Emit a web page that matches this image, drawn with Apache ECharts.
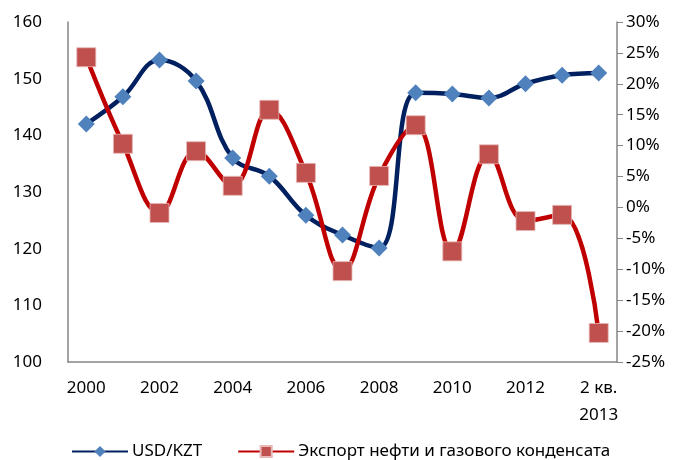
<!DOCTYPE html>
<html>
<head>
<meta charset="utf-8">
<script src="https://cdn.jsdelivr.net/npm/echarts@6/dist/echarts.min.js"></script>
<style>
  html, body { margin: 0; padding: 0; background: #fff; }
  #chart { width: 680px; height: 460px; }
</style>
</head>
<body>
<div id="chart"></div>
<script>
// data
var categories = ['2000', '2001', '2002', '2003', '2004', '2005', '2006', '2007',
  '2008', '2009', '2010', '2011', '2012', '2013', '2 кв.\n2013'];
var usdKzt = [142.0, 146.8, 153.3, 149.6, 136.0, 132.8, 125.9, 122.4,
  120.1, 147.5, 147.3, 146.6, 149.1, 150.6, 151.0];
var oilExport = [24.3, 10.3, -0.9, 9.1, 3.5, 15.8, 5.6, -10.3,
  5.1, 13.3, -7.1, 8.6, -2.2, -1.2, -20.3];
var seriesNames = ['USD/KZT', 'Экспорт нефти и газового конденсата'];

var font = "'Noto Sans', sans-serif";

var chart = echarts.init(document.getElementById('chart'));

chart.setOption({
  animation: false,
  textStyle: { fontFamily: font },
  grid: { left: 68, right: 63, top: 22, bottom: 98, outerBoundsMode: 'none', containLabel: false },
  legend: {
    top: 438,
    left: 66,
    itemWidth: 56,
    itemHeight: 14,
    itemGap: 35,
    textStyle: { fontSize: 17, color: '#000', fontFamily: font, padding: [0, 0, 0, -1] },
    data: seriesNames
  },
  xAxis: {
    type: 'category',
    data: categories,
    boundaryGap: true,
    axisLine: { onZero: false, lineStyle: { color: '#868686', width: 1.5 } },
    axisTick: { show: false },
    axisLabel: {
      interval: 1,
      fontSize: 17,
      color: '#000',
      margin: 13,
      lineHeight: 27,
      fontFamily: font
    }
  },
  yAxis: [{
    type: 'value',
    min: 100,
    max: 160,
    interval: 10,
    name: 'тенге',
    nameLocation: 'middle',
    nameGap: 46,
    nameRotate: 90,
    nameTextStyle: {
      fontSize: 17, fontWeight: 'bold', color: '#000',
      backgroundColor: '#fff', fontFamily: font
    },
    axisLine: { show: true, lineStyle: { color: '#868686', width: 1.5 } },
    axisTick: { show: false },
    splitLine: { show: false },
    axisLabel: { fontSize: 17, color: '#000', margin: 26, fontFamily: font }
  }, {
    type: 'value',
    min: -25,
    max: 30,
    interval: 5,
    position: 'right',
    axisLine: { show: true, lineStyle: { color: '#868686', width: 1.5 } },
    axisTick: { show: true, length: 6, lineStyle: { color: '#868686' } },
    splitLine: { show: false },
    axisLabel: {
      fontSize: 17, color: '#000', margin: 9, fontFamily: font,
      formatter: '{value}%'
    }
  }],
  series: [{
    name: seriesNames[0],
    type: 'line',
    yAxisIndex: 0,
    data: usdKzt,
    smooth: 0.4,
    symbol: 'diamond',
    symbolSize: 17,
    lineStyle: { color: '#002060', width: 4.5 },
    itemStyle: { color: '#4F81BD' },
    z: 2
  }, {
    name: seriesNames[1],
    type: 'line',
    yAxisIndex: 1,
    data: oilExport,
    smooth: 0.4,
    symbol: 'rect',
    symbolSize: 19,
    lineStyle: { color: '#C00000', width: 4.5 },
    itemStyle: { color: '#C0504D', borderColor: '#E6B9B8', borderWidth: 0.8 },
    z: 3
  }]
});
</script>
</body>
</html>
